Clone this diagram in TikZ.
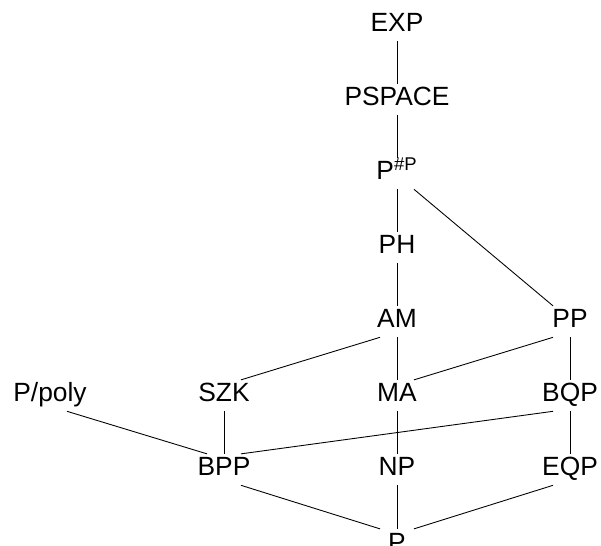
\documentclass[tikz,border=0pt]{standalone}
\usepackage{fontspec}
\setmainfont{Liberation Sans}
\usepackage{tikz}

\begin{document}
\begin{tikzpicture}
            [x=0.02cm, y=-0.02cm,
            every node/.style={rectangle, align=center, anchor=base,
                font=\fontsize{15}{18}\selectfont,
                text height=10.7pt, text depth=3.4pt, inner xsep=3pt, inner ysep=1.7pt},
            link/.style={draw=black, line width=0.5pt}]

            \clip (0,0) rectangle (601,546);

            % top column
            \node (exp)    at (397,32)  {EXP};
            \node (pspace) at (397,106) {PSPACE};
            \node (psharp) at (397,180) {P\textsuperscript{\#P}};
            \node (ph)     at (397,254) {PH};
            \node (am)     at (397,328) {AM};
            \node (pp)     at (570,328) {PP};

            % middle rows
            \node (ppoly)  at (50,402)  {P/poly};
            \node (szk)    at (224,402) {SZK};
            \node (ma)     at (397,402) {MA};
            \node (bqp)    at (570,402) {BQP};
            \node (bpp)    at (224,476) {BPP};
            \node (np)     at (397,476) {NP};
            \node (eqp)    at (570,476) {EQP};
            \node (p)      at (397,551) {P};

            % inclusions
            \draw[link] (exp.south) -- (pspace.north);
            \draw[link] (pspace.south) -- (psharp.north);
            \draw[link] (psharp.south) -- (ph.north);
            \draw[link] ([xshift=0.34cm]psharp.south) -- ([xshift=-0.34cm]pp.north);
            \draw[link] (ph.south) -- (am.north);
            \draw[link] ([xshift=-0.34cm]am.south) -- ([xshift=0.34cm]szk.north);
            \draw[link] (am.south) -- (ma.north);
            \draw[link] ([xshift=-0.34cm]pp.south) -- ([xshift=0.34cm]ma.north);
            \draw[link] (pp.south) -- (bqp.north);
            \draw[link] (ma.south) -- (np.north);
            \draw[link] ([xshift=0.34cm]ppoly.south) -- ([xshift=-0.34cm]bpp.north);
            \draw[link] (szk.south) -- (bpp.north);
            \draw[link] ([xshift=-0.34cm]bqp.south) -- ([xshift=0.34cm]bpp.north);
            \draw[link] (bqp.south) -- (eqp.north);
            \draw[link] ([xshift=0.34cm]bpp.south) -- ([xshift=-0.34cm]p.north);
            \draw[link] (np.south) -- (p.north);
            \draw[link] ([xshift=-0.34cm]eqp.south) -- ([xshift=0.34cm]p.north);
\end{tikzpicture}
\end{document}
